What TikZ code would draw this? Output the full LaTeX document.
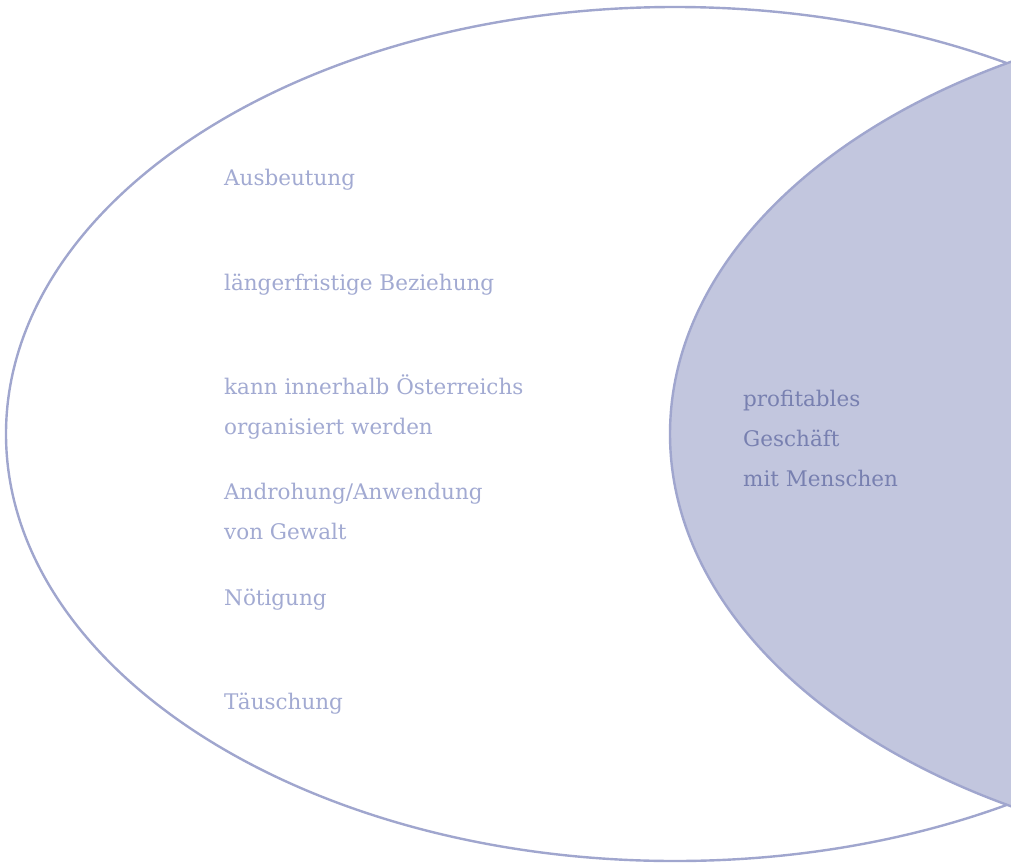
\documentclass[tikz,border=0pt]{standalone}
\usepackage{fontspec}
\setmainfont{DejaVu Serif}
\definecolor{strokec}{RGB}{160,166,206}
\definecolor{fillc}{RGB}{194,198,222}
\definecolor{outtxt}{RGB}{162,170,210}
\definecolor{intxt}{RGB}{120,128,176}
\tikzset{
  lbl/.style={anchor=base west, inner sep=0pt, align=left, text=outtxt, font=\fontsize{21.5}{40}\selectfont},
  inlbl/.style={lbl, text=intxt},
  shapeline/.style={draw=strokec, line width=2.4pt}
}
\begin{document}
\begin{tikzpicture}[x=1pt,y=-1pt]
\useasboundingbox (0,0) rectangle (1011,862);
\begin{scope}
\clip (0,0) rectangle (1011,862);
\draw[shapeline, fill=white] (675,434) ellipse [x radius=669, y radius=427];
\draw[shapeline, fill=fillc] (1339,434) ellipse [x radius=669, y radius=427];
\end{scope}
\node[lbl] (t1) at (224,185) {Ausbeutung};
\node[lbl] (t2) at (224,290) {längerfristige Beziehung};
\node[lbl] (t3) at (224,434) {kann innerhalb Österreichs\\organisiert werden};
\node[lbl] (t4) at (224,539) {Androhung/Anwendung\\von Gewalt};
\node[lbl] (t5) at (224,605) {Nötigung};
\node[lbl] (t6) at (224,709) {Täuschung};
\node[inlbl] (t7) at (743,486) {profitables\\Geschäft\\mit Menschen};
\end{tikzpicture}
\end{document}
